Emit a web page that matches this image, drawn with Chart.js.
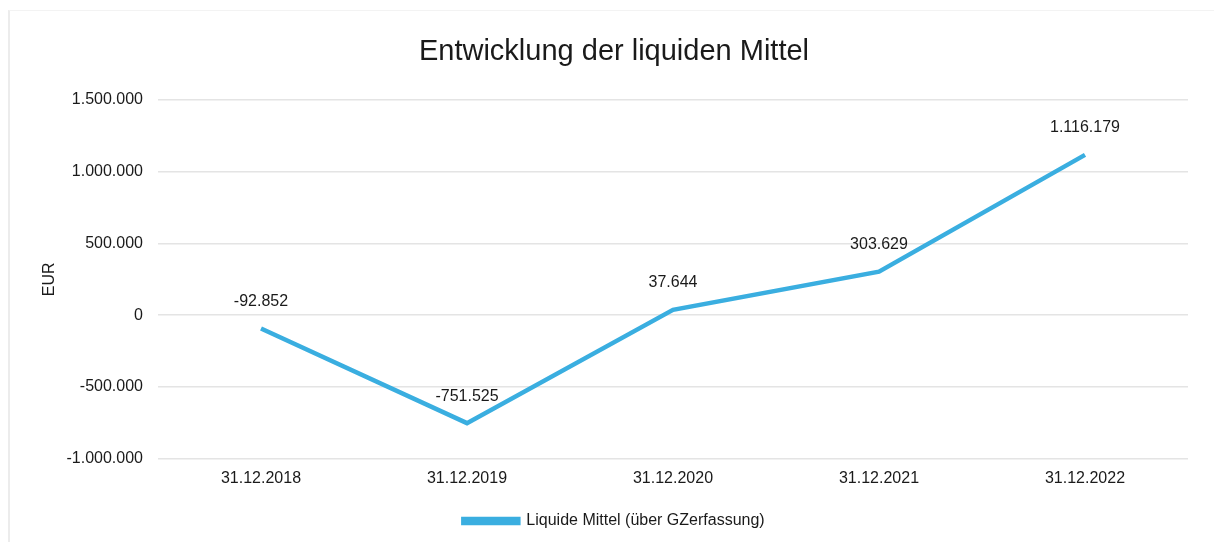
<!DOCTYPE html>
<html>
<head>
<meta charset="utf-8">
<script src="https://cdn.jsdelivr.net/npm/chart.js@4"></script>
<style>
  html, body { margin: 0; padding: 0; background: #fff; }
  #wrap { position: relative; width: 1214px; height: 542px; }
  #frame { position: absolute; left: 8px; top: 10px; width: 1210px; height: 540px;
           border-left: 2px solid #ececec; border-top: 1px solid #f3f3f3; }
</style>
</head>
<body>
<div id="wrap"><div id="frame"></div><canvas id="liquidChart"></canvas></div>
<script>
var labels = ["31.12.2018", "31.12.2019", "31.12.2020", "31.12.2021", "31.12.2022"];
var liquideMittel = [-92852, -751525, 37644, 303629, 1116179];
var yTicks = [-1000000, -500000, 0, 500000, 1000000, 1500000];

function fmt(v) {
    var s = Math.abs(Math.round(v)).toString().replace(/\B(?=(\d{3})+(?!\d))/g, ".");
    return (v < 0 ? "-" : "") + s;
}

var lineColor = "#3aaee0";
var fontFam = "'Liberation Sans', Arial, sans-serif";

// draws the value above every point
var valueLabels = {
    id: "valueLabels",
    afterDatasetsDraw: function (chart) {
        var ctx = chart.ctx;
        var meta = chart.getDatasetMeta(0);
        ctx.save();
        ctx.font = "16px " + fontFam;
        ctx.fillStyle = "#1a1a1a";
        ctx.textAlign = "center";
        ctx.textBaseline = "middle";
        meta.data.forEach(function (pt, i) {
            ctx.fillText(fmt(chart.data.datasets[0].data[i]), pt.x, pt.y - 27);
        });
        ctx.restore();
    }
};

var ctx = document.getElementById("liquidChart");

var myLineChart = new Chart(ctx, {
    type: "line",
    data: {
        labels: labels,
        datasets: [
            {
                label: "Liquide Mittel (über GZerfassung)",
                data: liquideMittel,
                borderColor: lineColor,
                backgroundColor: lineColor,
                borderWidth: 4.5,
                pointRadius: 0,
                tension: 0
            }
        ]
    },
    options: {
        responsive: true,
        maintainAspectRatio: false,
        animation: false,
        layout: {
            padding: { left: 40, right: 26, top: 35, bottom: 3 }
        },
        plugins: {
            title: {
                display: true,
                text: "Entwicklung der liquiden Mittel",
                color: "#1a1a1a",
                font: { family: fontFam, size: 29, weight: "normal" },
                padding: { top: 0, bottom: 30 }
            },
            legend: {
                position: "bottom",
                labels: {
                    color: "#1a1a1a",
                    font: { family: fontFam, size: 16 },
                    boxWidth: 55,
                    boxHeight: 4,
                    padding: 15
                }
            },
            tooltip: { enabled: false }
        },
        scales: {
            x: {
                offset: true,
                grid: { display: false, drawTicks: false },
                border: { display: false },
                ticks: {
                    color: "#1a1a1a",
                    padding: 10,
                    maxRotation: 0,
                    font: { family: fontFam, size: 16 }
                }
            },
            y: {
                min: -1000000,
                max: 1500000,
                afterBuildTicks: function (axis) {
                    axis.ticks = yTicks.map(function (v) { return { value: v }; });
                },
                afterFit: function (axis) {
                    axis.width = 118;
                },
                grid: { color: "#e4e4e4", lineWidth: 1.5, drawTicks: false },
                border: { display: false },
                title: {
                    display: true,
                    text: "EUR",
                    color: "#1a1a1a",
                    padding: { top: 0, bottom: 0 },
                    font: { family: fontFam, size: 16 }
                },
                ticks: {
                    color: "#1a1a1a",
                    padding: 15,
                    callback: function (v) { return fmt(v); },
                    font: { family: fontFam, size: 16 }
                }
            }
        }
    },
    plugins: [valueLabels]
});
</script>
</body>
</html>
